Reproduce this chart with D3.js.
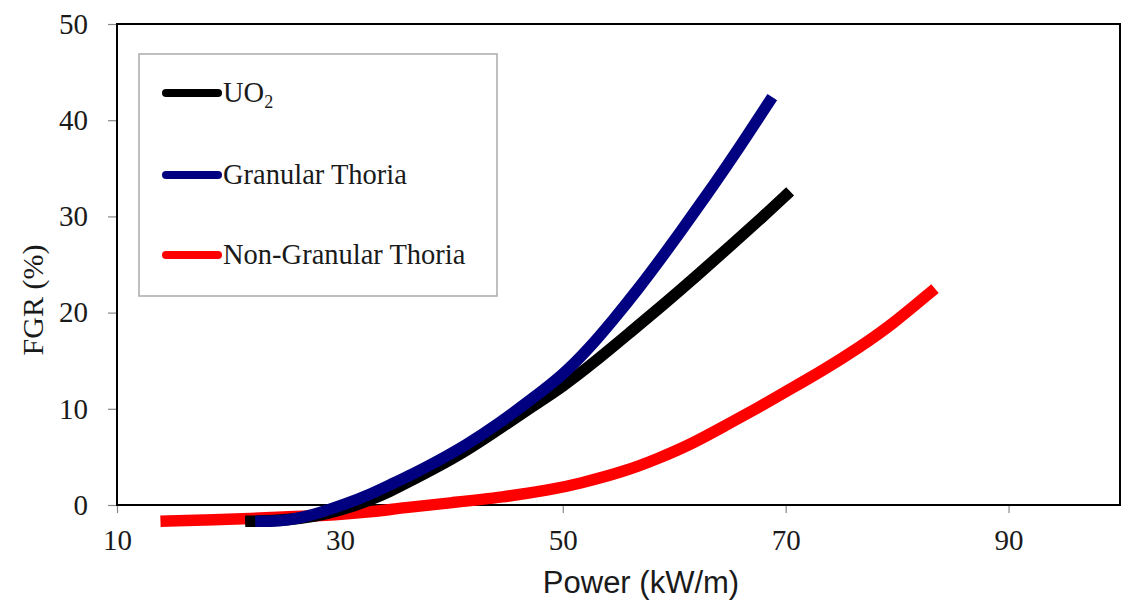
<!DOCTYPE html>
<html>
<head>
<meta charset="utf-8">
<script src="https://cdn.jsdelivr.net/npm/d3@7"></script>
<style>
body { margin: 0; background: #fff; }
svg { display: block; }
.tick line { stroke: #888; stroke-width: 1.2; }
.tick text { font-family: "Liberation Serif", "Times New Roman", serif; font-size: 29px; fill: #1a1a1a; }
.axis .domain { display: none; }
.legend text { font-family: "Liberation Serif", "Times New Roman", serif; font-size: 28.5px; fill: #1a1a1a; }
</style>
</head>
<body>
<svg></svg>
<script>
// values: [power kW/m, FGR %]
var uo2Data = [
  [21.5, -1.7], [24, -1.65], [26.5, -1.4], [28.5, -1.0], [30.5, -0.4], [32.7, 0.5],
  [34.5, 1.4], [36.5, 2.6], [38.5, 3.8], [41.3, 5.6], [44.3, 7.9], [47.2, 10.2],
  [50, 12.3], [53, 15.0], [56, 17.9], [59, 20.8], [62, 23.8], [65, 26.9],
  [68, 30.0], [70.4, 32.6]
];
var granularData = [
  [22.4, -1.7], [24.6, -1.7], [26.5, -1.35], [28.2, -0.8], [30.5, 0.1], [32.7, 1.1],
  [34.5, 2.1], [36.5, 3.2], [38.5, 4.4], [41.3, 6.2], [44.3, 8.5], [47.2, 11.0],
  [50, 13.5], [52.3, 16.2], [54.5, 19.2], [56.8, 22.5], [59, 25.9], [61.3, 29.6],
  [63.5, 33.2], [65.7, 36.9], [68.8, 42.4]
];
var nonGranularData = [
  [13.9, -1.7], [18, -1.55], [22, -1.4], [26, -1.2], [30, -1.0], [33, -0.7],
  [35.6, -0.3], [40.1, 0.25], [44.6, 0.8], [49, 1.6], [51.4, 2.2], [55.6, 3.5],
  [58.5, 4.8], [61.5, 6.3], [64.5, 8.2], [67.5, 10.1], [70.5, 12.1], [73.5, 14.1],
  [76.5, 16.3], [79.5, 18.7], [83.4, 22.5]
];
var seriesNames = ["UO", "Granular Thoria", "Non-Granular Thoria"];
var seriesColors = ["#000000", "#000080", "#ff0000"];
var xTicks = [10, 30, 50, 70, 90];
var yTicks = [0, 10, 20, 30, 40, 50];

var width = 1122, height = 600;
var plotLeft = 117, plotRight = 1120, plotTop = 24, plotBottom = 505;

var svg = d3.select("svg").attr("width", width).attr("height", height);

var x = d3.scaleLinear().domain([10, 100]).range([plotLeft, plotRight]);
var y = d3.scaleLinear().domain([0, 50]).range([plotBottom, plotTop]);

// axes (ticks + labels only, frame drawn separately)
svg.append("g")
  .attr("class", "axis")
  .attr("transform", "translate(" + plotLeft + ",0)")
  .call(d3.axisLeft(y).tickValues(yTicks).tickSize(9).tickPadding(20));

svg.append("g")
  .attr("class", "axis")
  .attr("transform", "translate(0," + plotBottom + ")")
  .call(d3.axisBottom(x).tickValues(xTicks).tickSize(8).tickPadding(16));

// plot frame
svg.append("rect")
  .attr("x", plotLeft).attr("y", plotTop)
  .attr("width", plotRight - plotLeft).attr("height", plotBottom - plotTop)
  .attr("fill", "none")
  .attr("stroke", "#000")
  .attr("stroke-width", 2);

var line = d3.line()
  .x(function(d) { return x(d[0]); })
  .y(function(d) { return y(d[1]); })
  .curve(d3.curveBasis);

// red under black under blue
var drawOrder = [[nonGranularData, 2], [uo2Data, 0], [granularData, 1]];
drawOrder.forEach(function(s) {
  svg.append("path")
    .datum(s[0])
    .attr("d", line)
    .attr("fill", "none")
    .attr("stroke", seriesColors[s[1]])
    .attr("stroke-width", 11.5)
    .attr("stroke-linecap", "butt")
    .attr("stroke-linejoin", "round");
});

// legend
var legend = svg.append("g").attr("class", "legend");
legend.append("rect")
  .attr("x", 139).attr("y", 54)
  .attr("width", 358).attr("height", 242)
  .attr("fill", "#fff")
  .attr("stroke", "#aaa")
  .attr("stroke-width", 1.5);

var legendY = [93, 175, 255];
seriesNames.forEach(function(name, i) {
  legend.append("line")
    .attr("x1", 166).attr("x2", 218)
    .attr("y1", legendY[i]).attr("y2", legendY[i])
    .attr("stroke", seriesColors[i])
    .attr("stroke-width", 8)
    .attr("stroke-linecap", "round");
  var t = legend.append("text")
    .attr("x", 223).attr("y", legendY[i] + 9)
    .text(name);
  if (i === 0) {
    t.append("tspan")
      .attr("font-size", "18px")
      .attr("dy", 6)
      .text("2");
  }
});

// axis titles
svg.append("text")
  .attr("x", 641).attr("y", 593)
  .attr("text-anchor", "middle")
  .style("font-family", "'Liberation Sans', Arial, sans-serif")
  .style("font-size", "31px")
  .style("fill", "#1a1a1a")
  .text("Power (kW/m)");

svg.append("text")
  .attr("transform", "translate(43,300) rotate(-90)")
  .attr("text-anchor", "middle")
  .style("font-family", "'Liberation Serif', 'Times New Roman', serif")
  .style("font-size", "30px")
  .style("fill", "#1a1a1a")
  .text("FGR (%)");
</script>
</body>
</html>
